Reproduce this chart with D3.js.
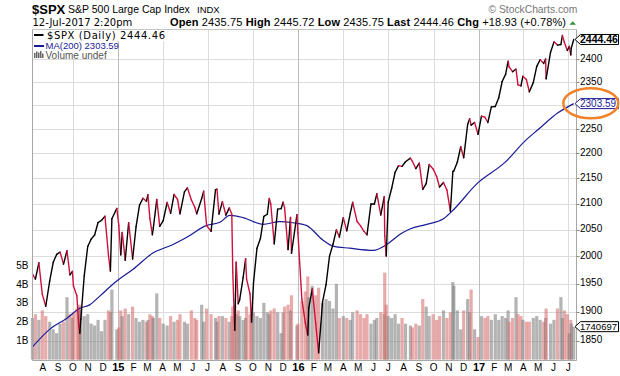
<!DOCTYPE html>
<html><head><meta charset="utf-8">
<script src="https://cdn.jsdelivr.net/npm/d3@7"></script>
<style>body{margin:0;background:#fff;}svg{display:block;font-family:"Liberation Sans",Arial,sans-serif;}text{white-space:pre;}</style>
</head><body><svg id="c" width="620" height="376"></svg>
<script>
// ---------- DATA ----------
const dates = [
"2014-07-11","2014-07-17","2014-07-24","2014-07-31",
"2014-08-07","2014-08-15","2014-08-22","2014-08-29",
"2014-09-05","2014-09-12","2014-09-19","2014-09-25","2014-09-30",
"2014-10-02","2014-10-09","2014-10-13","2014-10-15","2014-10-17","2014-10-24","2014-10-31",
"2014-11-07","2014-11-14","2014-11-21","2014-11-28",
"2014-12-05","2014-12-12","2014-12-16","2014-12-19","2014-12-29",
"2015-01-02","2015-01-06","2015-01-09","2015-01-15","2015-01-22","2015-01-30",
"2015-02-06","2015-02-13","2015-02-20","2015-02-27",
"2015-03-02","2015-03-06","2015-03-11","2015-03-13","2015-03-20","2015-03-26",
"2015-04-02","2015-04-10","2015-04-17","2015-04-24",
"2015-05-01","2015-05-06","2015-05-15","2015-05-21","2015-05-29",
"2015-06-05","2015-06-09","2015-06-19","2015-06-23","2015-06-29",
"2015-07-08","2015-07-17","2015-07-20","2015-07-24","2015-07-31",
"2015-08-07","2015-08-14","2015-08-19","2015-08-21","2015-08-25","2015-08-28",
"2015-09-01","2015-09-04","2015-09-11","2015-09-16","2015-09-18","2015-09-25","2015-09-28",
"2015-10-02","2015-10-09","2015-10-16","2015-10-23","2015-10-30",
"2015-11-03","2015-11-06","2015-11-13","2015-11-20","2015-11-27",
"2015-12-01","2015-12-04","2015-12-11","2015-12-16","2015-12-18","2015-12-29","2015-12-31",
"2016-01-08","2016-01-15","2016-01-20","2016-01-22","2016-01-29",
"2016-02-05","2016-02-11","2016-02-19","2016-02-26",
"2016-03-04","2016-03-11","2016-03-18","2016-03-24",
"2016-04-01","2016-04-08","2016-04-15","2016-04-20","2016-04-29",
"2016-05-06","2016-05-13","2016-05-19","2016-05-27",
"2016-06-03","2016-06-08","2016-06-16","2016-06-23","2016-06-24","2016-06-27",
"2016-07-01","2016-07-08","2016-07-15","2016-07-22","2016-07-29",
"2016-08-05","2016-08-15","2016-08-19","2016-08-26",
"2016-09-02","2016-09-09","2016-09-16","2016-09-22","2016-09-30",
"2016-10-07","2016-10-13","2016-10-21","2016-10-28",
"2016-11-04","2016-11-09","2016-11-11","2016-11-18","2016-11-25",
"2016-12-01","2016-12-09","2016-12-13","2016-12-16","2016-12-23","2016-12-30",
"2017-01-06","2017-01-13","2017-01-19","2017-01-26",
"2017-02-03","2017-02-10","2017-02-17","2017-02-24",
"2017-03-01","2017-03-03","2017-03-10","2017-03-17","2017-03-21","2017-03-27","2017-03-31",
"2017-04-07","2017-04-13","2017-04-21","2017-04-28",
"2017-05-05","2017-05-12","2017-05-16","2017-05-17","2017-05-26",
"2017-06-02","2017-06-09","2017-06-16","2017-06-19","2017-06-23","2017-06-29",
"2017-07-03","2017-07-06","2017-07-07","2017-07-12"
];
const closes = [
1967.57,1958.12,1987.98,1930.67,
1909.57,1955.06,1988.40,2003.37,
2007.71,1985.54,2010.40,1965.99,1972.29,
1946.17,1928.21,1874.74,1862.49,1886.76,1964.58,2018.05,
2031.92,2039.82,2063.50,2067.56,
2075.37,2002.33,1972.74,2070.65,2090.57,
2058.20,2002.61,2044.81,1992.67,2063.15,1994.99,
2055.47,2096.99,2110.30,2104.50,
2117.39,2071.26,2040.24,2053.40,2108.10,2056.15,
2066.96,2102.06,2081.18,2117.69,
2108.29,2080.15,2122.73,2130.82,2107.39,
2092.83,2080.15,2109.99,2124.20,2057.64,
2046.68,2126.64,2128.28,2079.65,2103.84,
2077.57,2091.54,2079.61,1970.89,1867.61,1988.87,
1913.85,1921.22,1961.05,1995.31,1958.03,1931.34,1881.77,
1951.36,2014.89,2033.11,2075.15,2079.36,
2109.79,2099.20,2023.04,2089.17,2090.11,
2102.63,2091.69,2012.37,2073.07,2005.55,2078.36,2043.94,
1922.03,1880.33,1859.33,1906.90,1940.24,
1880.05,1829.08,1917.78,1948.05,
1999.99,2022.19,2049.58,2035.94,
2072.78,2047.60,2080.73,2102.40,2065.30,
2057.14,2046.61,2040.04,2099.06,
2099.13,2119.12,2077.99,2113.32,2037.41,2000.54,
2102.95,2129.90,2161.74,2175.03,2173.60,
2182.87,2190.15,2183.87,2169.04,
2179.98,2127.81,2139.16,2177.18,2168.27,
2153.74,2132.55,2141.16,2126.41,
2085.18,2163.26,2164.45,2181.90,2213.35,
2191.08,2259.53,2271.72,2258.07,2263.79,2238.83,
2276.98,2274.64,2263.69,2296.68,
2297.42,2316.10,2351.16,2367.34,
2395.96,2383.12,2372.60,2378.25,2344.02,2341.59,2362.72,
2355.54,2328.95,2348.69,2384.20,
2399.29,2390.90,2400.67,2357.03,2415.82,
2439.07,2431.77,2433.15,2453.46,2438.30,2419.70,
2429.01,2409.75,2425.18,2444.46
];
// volume in billions of shares
const volumes = [
2.2,2.4,2.1,2.6,
2.3,2.0,1.6,1.4,
1.9,2.0,3.3,2.4,2.2,
2.5,2.7,2.8,2.9,2.6,2.3,2.4,
1.9,1.8,2.1,1.5,
2.1,2.6,2.5,3.7,1.6,
1.7,2.6,2.3,2.7,2.4,2.8,
2.2,2.0,2.1,2.0,
2.1,2.4,2.3,2.2,3.5,2.2,
1.9,1.8,2.3,2.0,
2.1,2.4,2.0,1.9,2.6,
2.2,2.1,2.9,2.0,2.7,
2.4,2.2,2.0,2.3,2.3,
2.2,2.0,2.3,2.8,2.9,2.4,
2.6,2.3,2.1,2.2,2.8,2.4,2.7,
2.5,2.3,2.2,3.0,2.5,
2.4,2.6,2.7,2.5,1.4,
2.5,2.8,2.9,2.6,3.4,1.8,1.9,
3.1,3.6,4.4,3.3,3.9,
3.4,3.8,3.0,3.2,
3.1,2.7,4.0,2.2,
2.3,2.2,2.1,2.5,2.6,
2.4,2.2,2.4,1.9,
2.1,2.2,2.5,2.4,4.6,2.9,
2.3,2.2,2.4,1.9,2.2,
1.9,1.8,1.7,1.9,
1.8,3.2,2.8,2.3,2.4,
2.1,2.3,2.6,2.2,
2.5,4.1,3.9,2.6,1.6,
2.6,3.2,2.5,3.7,1.6,1.2,
2.3,2.2,2.3,2.1,
2.4,2.1,2.3,2.2,
2.6,2.0,2.2,3.3,2.4,2.3,2.1,
2.0,2.0,2.2,2.3,
2.1,2.0,2.2,2.7,1.9,
2.1,2.7,3.3,2.2,2.6,2.4,
1.4,2.1,1.9,1.74
];
const maDates = ["2014-07-11","2014-08-16","2014-09-18","2014-10-15","2014-11-04","2014-11-25","2014-12-25","2015-01-31","2015-03-12","2015-04-22","2015-05-19","2015-06-29","2015-07-26","2015-08-15","2015-09-11","2015-10-21","2015-11-24","2015-12-21","2016-01-17","2016-02-20","2016-03-11","2016-04-14","2016-06-01","2016-06-28","2016-07-25","2016-08-14","2016-09-17","2016-10-20","2016-11-06","2016-12-30","2017-02-22","2017-04-07","2017-05-01","2017-06-10","2017-07-12"];
const maValues = [1839,1870,1888,1906,1912,1928,1952,1976,2006,2022,2035,2058,2064,2077,2073,2060,2065,2063,2058,2030,2019,2015,2011,2022,2041,2051,2060,2070,2084,2141,2181,2228,2249,2284,2303.59];

const priceTicks = [1850,1900,1950,2000,2050,2100,2150,2200,2250,2300,2350,2400];
const volTicks = [1,2,3,4,5];
const volTickLabels = ["1B","2B","3B","4B","5B"];
const monthTickLabels = ["A","S","O","N","D","15","F","M","A","M","J","J","A","S","O","N","D","16","F","M","A","M","J","J","A","S","O","N","D","17","F","M","A","M","J","J"];
const headerLabels = ["Open","High","Low","Last","Chg"];
const headerValues = ["2435.75","2445.72","2435.75","2444.46","+18.93 (+0.78%)"];
const lastClose = 2444.46, lastMA = 2303.59, lastVolume = 1740697;

// ---------- SCALES ----------
const parse = d3.timeParse("%Y-%m-%d");
const L = 32.5, R = 576.5, T = 29.5, B = 360.5;
const x = d3.scaleTime().domain([parse("2015-01-01"), parse("2017-01-01")]).range([118.3, 479]);
const y = d3.scaleLog().domain([1850, 2400]).range([340.5, 59.3]);
const yv = d3.scaleLinear().domain([0, 5]).range([359.6, 265]);

const pts = dates.map((d, i) => ({d: parse(d), c: closes[i], v: volumes[i]}));
const ma = maDates.map((d, i) => ({d: parse(d), v: maValues[i]}));

const svg = d3.select("#c");
svg.append("rect").attr("width", 620).attr("height", 376).attr("fill", "#fff");

// ---------- GRID ----------
const grid = svg.append("g");
grid.selectAll("line.h").data(priceTicks).join("line")
  .attr("x1", L).attr("x2", R)
  .attr("y1", d => Math.round(y(d)) + 0.5).attr("y2", d => Math.round(y(d)) + 0.5)
  .attr("stroke", "#dcdcdc").attr("stroke-width", 1);
const quarters = d3.timeMonth.every(3).range(parse("2014-08-01"), parse("2017-08-01"));
grid.selectAll("line.v").data(quarters).join("line")
  .attr("x1", d => Math.round(x(d)) + 0.5).attr("x2", d => Math.round(x(d)) + 0.5)
  .attr("y1", T).attr("y2", B)
  .attr("stroke", d => d.getMonth() === 0 ? "#bdbdbd" : "#dcdcdc").attr("stroke-width", 1);

// ---------- VOLUME ----------
const RED = "#d0103c";
svg.append("g").selectAll("rect").data(pts).join("rect")
  .attr("x", d => x(d.d) - 1.6).attr("width", 3.2)
  .attr("y", d => yv(d.v)).attr("height", d => yv(0) - yv(d.v))
  .attr("fill", (d, i) => (i > 0 && d.c < pts[i - 1].c) ? "rgba(214,110,110,0.58)" : "rgba(125,125,125,0.58)");

// ---------- MA ----------
svg.append("path").datum(ma)
  .attr("d", d3.line().x(d => x(d.d)).y(d => y(d.v)).curve(d3.curveMonotoneX))
  .attr("fill", "none").attr("stroke", "#1a1a96").attr("stroke-width", 1.2);

// ---------- PRICE ----------
const seg = d3.line().x(d => x(d.d)).y(d => y(d.c));
svg.append("g").selectAll("path").data(d3.pairs(pts)).join("path")
  .attr("d", d => seg(d))
  .attr("fill", "none").attr("stroke-width", 1.4).attr("stroke-linecap", "round")
  .attr("stroke", d => d[1].c < d[0].c ? RED : "#000");

// ---------- BORDER ----------
const border = svg.append("g").attr("stroke", "#a8a8a8").attr("stroke-width", 1);
border.append("line").attr("x1", L).attr("x2", R).attr("y1", T).attr("y2", T).attr("stroke", "#c4c4c4");
border.append("line").attr("x1", L).attr("x2", R).attr("y1", B).attr("y2", B);
border.append("line").attr("x1", L).attr("x2", L).attr("y1", T).attr("y2", B);
border.append("line").attr("x1", R).attr("x2", R).attr("y1", T).attr("y2", B);

// ---------- LEGEND ----------
const lg = svg.append("g");
lg.append("rect").attr("x", 33).attr("y", 30).attr("width", 134).attr("height", 11).attr("fill", "#fff");
lg.append("rect").attr("x", 33).attr("y", 41).attr("width", 76).attr("height", 9).attr("fill", "#fff");
lg.append("rect").attr("x", 33).attr("y", 50).attr("width", 76).attr("height", 8.5).attr("fill", "#fff");
lg.append("line").attr("x1", 34).attr("x2", 43.5).attr("y1", 35).attr("y2", 35).attr("stroke", "#000").attr("stroke-width", 2);
lg.append("text").attr("x", 47).attr("y", 38.8).attr("font-family", "'DejaVu Sans',sans-serif").attr("font-size", 10)
  .attr("textLength", 118).attr("lengthAdjust", "spacing").attr("fill", "#000").text("$SPX (Daily) " + lastClose.toFixed(2));
lg.append("line").attr("x1", 34).attr("x2", 44).attr("y1", 46).attr("y2", 46).attr("stroke", "#1a1a96").attr("stroke-width", 2);
lg.append("text").attr("x", 45.5).attr("y", 49).attr("font-size", 9.5).attr("fill", "#1a1a96").text("MA(200) " + lastMA.toFixed(2));
const vi = lg.append("g").attr("fill", "#666");
[[34,53,1.5,5],[36,51.5,1.5,6.5],[38,52.5,1.5,5.5],[40,51,1.5,7],[42,53.5,1.5,4.5]].forEach(b =>
  vi.append("rect").attr("x", b[0]).attr("y", b[1]).attr("width", b[2]).attr("height", b[3]));
lg.append("text").attr("x", 45.5).attr("y", 59).attr("font-size", 10).attr("fill", "#555").text("Volume undef");

// ---------- RIGHT AXIS ----------
const ra = svg.append("g");
ra.selectAll("line").data(priceTicks).join("line")
  .attr("x1", R).attr("x2", R + 3).attr("y1", d => Math.round(y(d)) + 0.5).attr("y2", d => Math.round(y(d)) + 0.5)
  .attr("stroke", "#888");
// labels hidden behind the value tags are not drawn (as in the reference)
const tagYs = [y(lastClose), y(lastMA)];
ra.selectAll("text").data(priceTicks.filter(t => tagYs.every(ty => Math.abs(y(t) - ty) > 9))).join("text")
  .attr("x", 580).attr("y", d => y(d) + 2.8).attr("font-size", 10).attr("fill", "#000").text(d => d);

// ---------- LEFT VOLUME AXIS ----------
svg.append("g").selectAll("text").data(volTicks).join("text")
  .attr("x", 28.5).attr("y", d => yv(d) + 3.6).attr("text-anchor", "end").attr("font-size", 10)
  .text((d, i) => volTickLabels[i]);

// ---------- TAGS ----------
function tag(yy, color, label, bold, size) {
  const g = svg.append("g");
  g.append("path").attr("d", `M575,${yy} L580.5,${yy-5} L618.5,${yy-5} L618.5,${yy+5} L580.5,${yy+5} Z`)
    .attr("fill", "#fff").attr("stroke", color).attr("stroke-width", 1);
  g.append("text").attr("x", 580).attr("y", yy + 3.6).attr("font-size", size)
    .attr("font-weight", bold ? "bold" : "normal").attr("fill", color).text(label);
}
tag(y(lastClose), "#000", lastClose.toFixed(2), true, 10.5);
tag(y(lastMA), "#1a1a96", lastMA.toFixed(2), false, 10);
tag(yv(lastVolume / 1e6), "#000", String(lastVolume), false, 9.5);
svg.append("ellipse").attr("cx", 590.8).attr("cy", 103.3).attr("rx", 27.5).attr("ry", 15)
  .attr("fill", "none").attr("stroke", "#f0822a").attr("stroke-width", 2.5);

// ---------- BOTTOM AXIS ----------
const months = d3.timeMonth.range(parse("2014-08-01"), parse("2017-08-01"));
svg.append("g").selectAll("text").data(months).join("text")
  .attr("x", d => x(d)).attr("y", 370.7).attr("text-anchor", "middle")
  .attr("font-size", (d, i) => /\d/.test(monthTickLabels[i]) ? 11 : 10)
  .attr("font-weight", (d, i) => /\d/.test(monthTickLabels[i]) ? "bold" : "normal")
  .text((d, i) => monthTickLabels[i]);

// ---------- HEADER ----------
svg.append("text").attr("x", 32).attr("y", 13.5).attr("font-size", 13).attr("font-weight", "bold").text("$SPX");
svg.append("text").attr("x", 68).attr("y", 13.3).attr("font-size", 10.5).text("S&P 500 Large Cap Index");
svg.append("text").attr("x", 197).attr("y", 13.3).attr("font-size", 9.5).text("INDX");
svg.append("text").attr("x", 32.5).attr("y", 26.3).attr("font-family", "'DejaVu Sans',sans-serif").attr("font-size", 10).text("12-Jul-2017 2:20pm");
const hdr = svg.append("text").attr("x", 170).attr("y", 26.3).attr("font-size", 11)
  .attr("textLength", 396).attr("lengthAdjust", "spacing");
headerLabels.forEach((l, i) => {
  hdr.append("tspan").attr("font-weight", "bold").text(l + " ");
  hdr.append("tspan").text(headerValues[i] + (i < headerLabels.length - 1 ? " " : ""));
});
svg.append("path").attr("d", "M569.5,24.7 L576,24.7 L572.75,21.2 Z").attr("fill", "#2e9140");
svg.append("text").attr("x", 488.5).attr("y", 12.7).attr("font-size", 10.3).attr("fill", "#777").text("\u00A9 StockCharts.com");
</script></body></html>
